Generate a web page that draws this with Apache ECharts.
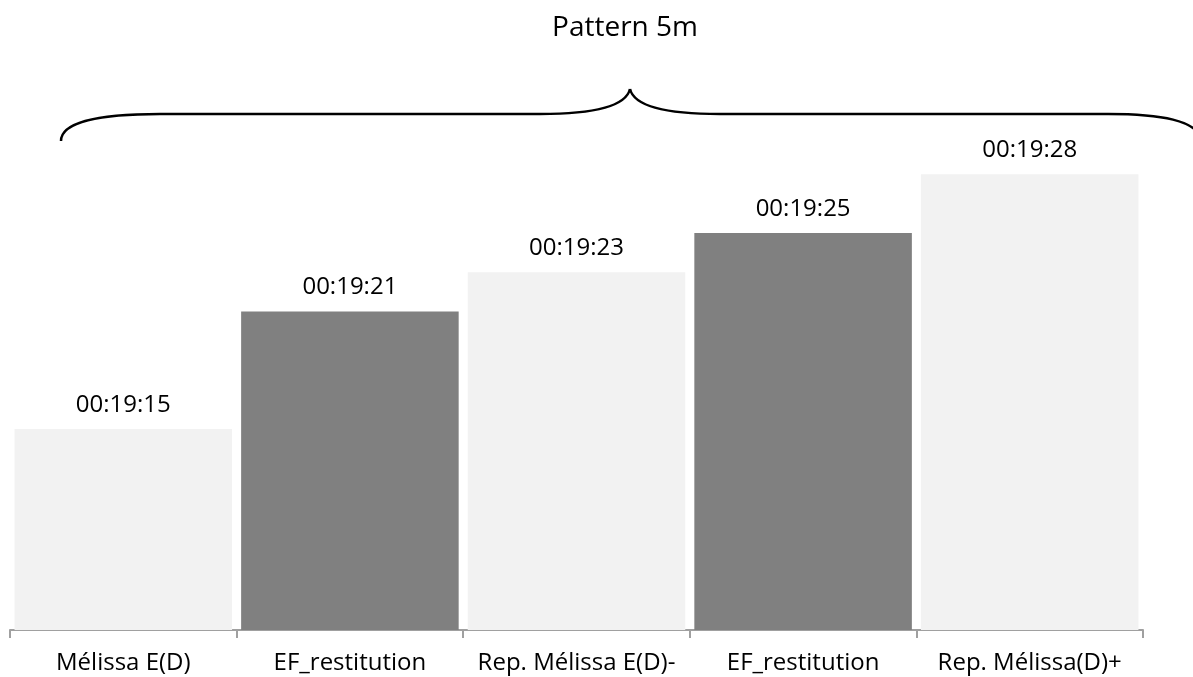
<!DOCTYPE html>
<html>
<head>
<meta charset="utf-8">
<script src="https://cdn.jsdelivr.net/npm/echarts@6/dist/echarts.min.js"></script>
<style>
html,body{margin:0;padding:0;background:#fff;}
#main{width:1193px;height:677px;}
</style>
</head>
<body>
<div id="main"></div>
<script>
// Categories and values (values in seconds; 00:19:15 = 1155 s)
const categories = ['Mélissa E(D)', 'EF_restitution', 'Rep. Mélissa E(D)-', 'EF_restitution', 'Rep. Mélissa(D)+'];
const seconds = [1155, 1161, 1163, 1165, 1168];
const barColors = ['#f2f2f2', '#808080', '#f2f2f2', '#808080', '#f2f2f2'];
const titleText = 'Pattern 5m';

function fmt(s) {
  const h = Math.floor(s / 3600), m = Math.floor((s % 3600) / 60), sec = s % 60;
  const p = n => String(n).padStart(2, '0');
  return p(h) + ':' + p(m) + ':' + p(sec);
}

const chart = echarts.init(document.getElementById('main'), null, {renderer: 'canvas'});
const font = '"Open Sans", "Noto Sans", sans-serif';
const braceStyle = {stroke: '#000', lineWidth: 2.5, fill: 'none'};
function bez(x1, y1, cpx1, cpy1, cpx2, cpy2, x2, y2) {
  return {type: 'bezierCurve', shape: {x1, y1, cpx1, cpy1, cpx2, cpy2, x2, y2}, style: braceStyle, silent: true};
}
function line(x1, y1, x2, y2) {
  return {type: 'line', shape: {x1, y1, x2, y2}, style: braceStyle, silent: true};
}
chart.setOption({
  animation: false,
  backgroundColor: '#fff',
  title: {
    text: titleText,
    left: 620, top: 9,
    textAlign: 'center',
    textStyle: {fontFamily: font, fontSize: 28, fontWeight: 'normal', color: '#000'}
  },
  grid: {left: 10, right: 50, top: 135, bottom: 47, containLabel: false},
  xAxis: {
    type: 'category',
    data: categories,
    axisLine: {show: true, lineStyle: {color: '#a0a0a0', width: 2}},
    axisTick: {show: true, length: 8, lineStyle: {color: '#a0a0a0', width: 2}},
    axisLabel: {fontFamily: font, fontSize: 24, color: '#000', margin: 21, interval: 0}
  },
  yAxis: {
    type: 'value',
    min: 1144.75, max: 1170,
    show: false,
    splitLine: {show: false}
  },
  series: [{
    type: 'bar',
    barCategoryGap: '4%',
    data: seconds.map((v, i) => ({value: v, itemStyle: {color: barColors[i]}})),
    label: {
      show: true, position: 'top', distance: 12,
      fontFamily: font, fontSize: 24, color: '#000',
      formatter: p => fmt(p.value)
    }
  }],
  graphic: [
    bez(61, 141, 61, 122, 100, 114, 160, 114),
    line(160, 114, 540, 114),
    bez(540, 114, 595, 114, 626, 106, 630, 89),
    bez(630, 89, 634, 106, 665, 114, 720, 114),
    line(720, 114, 1108, 114),
    bez(1108, 114, 1160, 114, 1198, 120, 1202, 141)
  ]
});
</script>
</body>
</html>
